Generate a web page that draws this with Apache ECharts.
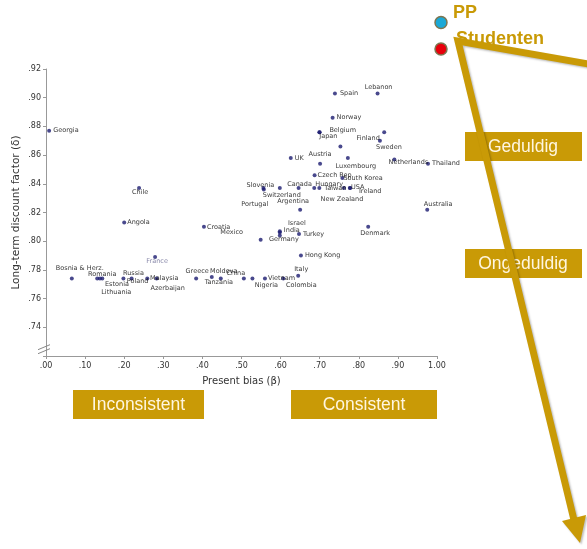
<!DOCTYPE html>
<html><head><meta charset="utf-8">
<script src="https://cdn.jsdelivr.net/npm/echarts@6/dist/echarts.min.js"></script>
<style>html,body{margin:0;padding:0;background:#fff}#c{width:587px;height:549px}</style>
</head><body><div id="c"></div>
<script>
// ---- data ----
const countries = ['Georgia','Spain','Lebanon','Norway','Japan','Belgium','','Finland','Sweden','UK','Austria','Luxembourg','Netherlands','Thailand','Czech Rep.','South Korea','Slovenia','Portugal','Switzerland','Canada','Hungary','Taiwan','New Zealand','USA','Ireland','Argentina','Australia','Chile','Angola','Croatia','Denmark','Israel','India','Germany','Turkey','Mexico','Hong Kong','France','Italy','Colombia','Vietnam','Nigeria','China','Tanzania','Moldova','Greece','Azerbaijan','Malaysia','Poland','Russia','Lithuania','Estonia','Romania','Bosnia & Herz.'];
const presentBias = [0.008,0.739,0.848,0.733,0.699,0.700,0.753,0.865,0.854,0.626,0.701,0.772,0.891,0.977,0.687,0.758,0.556,0.557,0.598,0.646,0.686,0.699,0.762,0.777,0.778,0.650,0.975,0.238,0.200,0.404,0.824,0.598,0.598,0.598,0.647,0.549,0.652,0.279,0.645,0.607,0.560,0.528,0.506,0.447,0.424,0.384,0.283,0.259,0.219,0.198,0.144,0.138,0.131,0.066];
const discountFactor = [0.877,0.903,0.903,0.886,0.876,0.876,0.866,0.876,0.870,0.858,0.854,0.858,0.857,0.854,0.846,0.844,0.837,0.836,0.837,0.837,0.837,0.837,0.837,0.837,0.837,0.822,0.822,0.837,0.813,0.810,0.810,0.807,0.806,0.804,0.805,0.801,0.790,0.789,0.776,0.774,0.774,0.774,0.774,0.774,0.775,0.774,0.774,0.774,0.774,0.774,0.774,0.774,0.774,0.774];
const xTicks = { min: 0, max: 1, step: 0.1 };
const yTicks = { min: 0.72, max: 0.92, step: 0.02, firstLabelled: 0.74 };
const boxTexts = ['Inconsistent','Consistent','Geduldig','Ongeduldig'];
const legendTexts = ['PP','Studenten'];

// ---- label placement (style only): [anchor, dx, dy]
// anchor 'c' = dx,dy is the label centre relative to the dot; 'l' = dx is the label's left edge
const labelPlace = {
  'Georgia':['l',4,0],'Spain':['l',5,0],'Lebanon':['c',1,-6],'Norway':['l',4,0],
  'Japan':['c',9,4],'Belgium':['c',23,-2],'Finland':['c',-16,6],'Sweden':['c',9,7],
  'UK':['l',4,0],'Austria':['c',0,-9],'Luxembourg':['c',8,8],'Netherlands':['c',14,3],
  'Thailand':['l',4,0],'Czech Rep.':['l',3,0],'South Korea':['l',1,0],
  'Slovenia':['c',-3,-3],'Portugal':['c',-9,15],'Switzerland':['c',2,7],'Canada':['c',1,-4],
  'Hungary':['c',15,-4],'Taiwan':['c',16,0],'New Zealand':['c',-2,11],'USA':['c',8,-1],
  'Ireland':['c',20,3],'Argentina':['c',-7,-8],'Australia':['c',11,-5],'Chile':['c',1,4],
  'Angola':['l',3,0],'Croatia':['l',3,0],'Denmark':['c',7,6],'Israel':['c',17,-8],
  'India':['c',12,-2],'Germany':['c',4,4],'Turkey':['l',4,0],'Mexico':['c',-29,-7],
  'Hong Kong':['l',4,0],'France':['c',2,4],'Italy':['c',3,-6],'Colombia':['c',18,7],
  'Vietnam':['l',3,0],'Nigeria':['c',14,7],'China':['c',-8,-5],'Tanzania':['c',-2,4],
  'Moldova':['c',12,-6],'Greece':['c',1,-7],'Azerbaijan':['c',11,10],'Malaysia':['c',17,0],
  'Poland':['c',6,3],'Russia':['c',10,-5],'Lithuania':['c',14,14],'Estonia':['c',17,6],
  'Romania':['c',5,-4],'Bosnia & Herz.':['c',8,-10]
};

const GOLD = '#C99A06';
const points = countries.map((n, i) => {
  const item = { name: n, value: [presentBias[i], discountFactor[i]] };
  if (!labelPlace[n]) item.label = { show: false };
  else if (n === 'France') item.label = { color: '#6b6b95' };
  return item;
});

const fmtX = v => v >= 1 ? v.toFixed(2) : v.toFixed(2).replace(/^0/, '');
const fmtY = v => v < yTicks.firstLabelled - 1e-6 ? '' : v.toFixed(2).replace(/^0/, '');

const chart = echarts.init(document.getElementById('c'), null, { renderer: 'canvas' });
chart.setOption({
  animation: false,
  backgroundColor: '#fff',
  grid: { left: 46, right: 150, top: 69, bottom: 193, containLabel: false, outerBoundsMode: 'none' },
  xAxis: {
    type: 'value', min: xTicks.min, max: xTicks.max, interval: xTicks.step,
    name: 'Present bias (β)', nameLocation: 'middle', nameGap: 20,
    nameTextStyle: { fontFamily: 'DejaVu Sans', fontSize: 10, color: '#333' },
    axisLine: { show: true, lineStyle: { color: '#999', width: 1 } },
    axisTick: { show: true, length: 3, lineStyle: { color: '#999' } },
    axisLabel: { formatter: fmtX, fontFamily: 'DejaVu Sans', fontSize: 8, color: '#333', margin: 6 },
    splitLine: { show: false }
  },
  yAxis: {
    type: 'value', min: yTicks.min, max: yTicks.max, interval: yTicks.step,
    name: 'Long-term discount factor (δ)', nameLocation: 'middle', nameGap: 24, nameMoveOverlap: false,
    nameTextStyle: { fontFamily: 'DejaVu Sans', fontSize: 10.5, color: '#333' },
    axisLine: { show: true, lineStyle: { color: '#999', width: 1 } },
    axisTick: { show: true, length: 3, lineStyle: { color: '#999' } },
    axisLabel: { formatter: fmtY, fontFamily: 'DejaVu Sans', fontSize: 8, color: '#333', margin: 5 },
    splitLine: { show: false }
  },
  series: [{
    type: 'scatter', symbol: 'circle', symbolSize: 4,
    itemStyle: { color: '#1c1c70' },
    label: { show: true, position: 'inside', formatter: '{b}', fontFamily: 'DejaVu Sans', fontSize: 6.5, color: '#000' },
    labelLayout: function (params) {
      const n = countries[params.dataIndex];
      const p = labelPlace[n];
      if (!p) return {};
      const r = params.labelRect, s = params.rect;
      const cx = s.x + s.width / 2, cy = s.y + s.height / 2;
      let lx = p[0] === 'l' ? cx + p[1] : cx + p[1] - r.width / 2;
      const ly = cy + p[2] - r.height / 2;
      return { x: lx, y: ly, align: 'left', verticalAlign: 'top', hideOverlap: false };
    },
    data: points
  }]
});

// axis break marker and overlay annotations
const bp = chart.convertToPixel({ gridIndex: 0 }, [0, 0.7265]);
const bx = bp[0], by = bp[1];
const txt = (t, x, y, font, fill, align) => ({
  type: 'text', z: 20,
  style: { text: t, x: x, y: y, font: font, fill: fill, textAlign: align || 'center', textVerticalAlign: 'middle', align: align || 'center', verticalAlign: 'middle' }
});
const boxFont = '17.5px "Liberation Sans"';
chart.setOption({
  graphic: [
    { type: 'line', z: 20, shape: { x1: bx - 8, y1: by + 3, x2: bx + 4, y2: by - 2 }, style: { stroke: '#888', lineWidth: 1 } },
    { type: 'line', z: 20, shape: { x1: bx - 8, y1: by + 7, x2: bx + 4, y2: by + 2 }, style: { stroke: '#888', lineWidth: 1 } },
    { type: 'rect', z: 10, shape: { x: 73, y: 390, width: 131, height: 29 }, style: { fill: GOLD } },
    { type: 'rect', z: 10, shape: { x: 291, y: 390, width: 146, height: 29 }, style: { fill: GOLD } },
    { type: 'rect', z: 10, shape: { x: 465, y: 132, width: 117, height: 29 }, style: { fill: GOLD } },
    { type: 'rect', z: 10, shape: { x: 465, y: 249, width: 117, height: 29 }, style: { fill: GOLD } },
    txt(boxTexts[0], 138.5, 405, boxFont, '#FFF6E0'),
    txt(boxTexts[1], 364, 405, boxFont, '#FFF6E0'),
    txt(boxTexts[2], 523, 147, boxFont, '#FFF6E0'),
    txt(boxTexts[3], 523, 264, boxFont, '#FFF6E0'),
    { type: 'circle', z: 20, shape: { cx: 441, cy: 22.5, r: 6 }, style: { fill: '#1BA8D6', stroke: '#7d7550', lineWidth: 1.5 } },
    { type: 'circle', z: 20, shape: { cx: 441, cy: 49, r: 6 }, style: { fill: '#E8000B', stroke: '#7d7550', lineWidth: 1.5 } },
    txt(legendTexts[0], 453, 13, 'bold 18px "Liberation Sans"', GOLD, 'left'),
    txt(legendTexts[1], 456, 39, 'bold 18px "Liberation Sans"', GOLD, 'left'),
    { type: 'polyline', z: 30, shape: { points: [[600, 66], [458, 41], [574, 520]] },
      style: { stroke: GOLD, lineWidth: 7, fill: null, lineJoin: 'miter', shadowBlur: 2, shadowOffsetX: 1.5, shadowOffsetY: 1.5, shadowColor: 'rgba(0,0,0,0.25)' } },
    { type: 'polygon', z: 30, shape: { points: [[562, 521], [586, 515], [580, 543]] },
      style: { fill: GOLD, shadowBlur: 2, shadowOffsetX: 1.5, shadowOffsetY: 1.5, shadowColor: 'rgba(0,0,0,0.25)' } }
  ]
});
</script>
</body></html>
